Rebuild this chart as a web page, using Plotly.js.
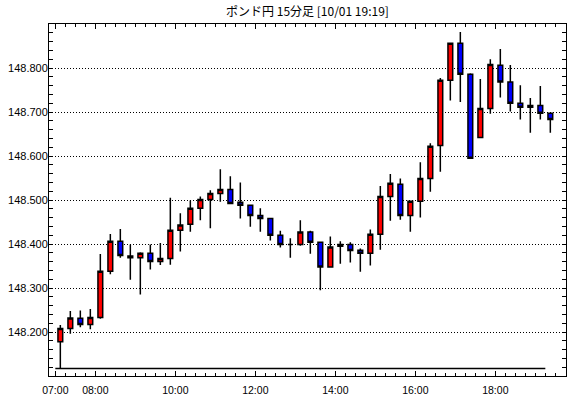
<!DOCTYPE html>
<html><head><meta charset="utf-8">
<script src="https://cdn.plot.ly/plotly-3.0.1.min.js"></script>
<style>html,body{margin:0;padding:0;background:#fff;}#chart{width:570px;height:398px;}</style>
</head><body><div id="chart"></div>
<script>
const dateStr = '2024-10-01';
const times = ['07:00','07:15','07:30','07:45','08:00','08:15','08:30','08:45','09:00','09:15',
  '09:30','09:45','10:00','10:15','10:30','10:45','11:00','11:15','11:30','11:45',
  '12:00','12:15','12:30','12:45','13:00','13:15','13:30','13:45','14:00','14:15',
  '14:30','14:45','15:00','15:15','15:30','15:45','16:00','16:15','16:30','16:45',
  '17:00','17:15','17:30','17:45','18:00','18:15','18:30','18:45','19:00','19:15'];
const openVals = [148.178,148.208,148.231,148.217,148.233,148.338,148.406,148.373,148.369,148.379,
  148.360,148.367,148.431,148.445,148.481,148.501,148.515,148.524,148.495,148.488,
  148.465,148.458,148.420,148.399,148.399,148.427,148.404,148.348,148.395,148.399,
  148.386,148.379,148.422,148.508,148.536,148.465,148.497,148.549,148.624,148.772,
  148.856,148.786,148.642,148.708,148.806,148.768,148.720,148.711,148.715,148.697];
const highVals = [148.216,148.248,148.249,148.252,148.377,148.423,148.434,148.399,148.381,148.399,
  148.402,148.505,148.470,148.499,148.508,148.522,148.570,148.554,148.540,148.490,
  148.481,148.458,148.430,148.413,148.454,148.430,148.404,148.417,148.406,148.404,
  148.390,148.433,148.532,148.559,148.549,148.497,148.586,148.629,148.777,148.858,
  148.882,148.788,148.775,148.820,148.843,148.807,148.761,148.732,148.759,148.697];
const lowVals = [148.117,148.196,148.211,148.206,148.230,148.331,148.369,148.319,148.285,148.342,
  148.352,148.353,148.383,148.428,148.454,148.436,148.496,148.492,148.458,148.439,
  148.428,148.408,148.392,148.369,148.396,148.378,148.295,148.346,148.355,148.358,
  148.337,148.351,148.387,148.453,148.455,148.428,148.460,148.519,148.564,148.726,
  148.723,148.595,148.642,148.696,148.733,148.701,148.683,148.653,148.683,148.653];
const closeVals = [148.208,148.232,148.217,148.233,148.338,148.406,148.374,148.369,148.379,148.360,
  148.367,148.431,148.443,148.481,148.501,148.515,148.524,148.492,148.488,148.465,
  148.458,148.420,148.399,148.399,148.427,148.404,148.348,148.393,148.399,148.385,
  148.379,148.422,148.508,148.538,148.465,148.497,148.549,148.622,148.772,148.856,
  148.786,148.595,148.708,148.808,148.768,148.720,148.711,148.715,148.697,148.683];
const xTickTimes = ['07:00','08:00','10:00','12:00','14:00','16:00','18:00'];
const yTickVals = [148.2,148.3,148.4,148.5,148.6,148.7,148.8];
const titleText = 'ポンド円 15分足 [10/01 19:19]';

const xs = times.map(t => dateStr + ' ' + t);
const dayLow = Math.min(...lowVals);

const traces = [
  {
    type: 'scatter', mode: 'lines',
    x: [xs[0], xs[xs.length - 1]], y: [dayLow, dayLow],
    line: {color: '#000', width: 1.5}, hoverinfo: 'skip', showlegend: false
  },
  {
    type: 'candlestick',
    x: xs, open: openVals, high: highVals, low: lowVals, close: closeVals,
    xperiod: 900000, xperiodalignment: 'middle',
    increasing: {fillcolor: '#ff0000', line: {color: '#000', width: 1.5}},
    decreasing: {fillcolor: '#0000ff', line: {color: '#000', width: 1.5}},
    whiskerwidth: 0, showlegend: false
  }
];

const axisFont = {family: 'Liberation Sans, Arial, sans-serif', color: '#000'};
const layout = {
  width: 570, height: 398,
  margin: {l: 49, r: 4, t: 24, b: 22},
  paper_bgcolor: '#fff', plot_bgcolor: '#fff',
  showlegend: false,
  boxgap: 0.32,
  title: {
    text: titleText, x: 0.5, xref: 'paper', xanchor: 'center',
    y: 1 - 12 / 398, yref: 'container', yanchor: 'middle',
    font: {family: 'Noto Sans CJK JP, sans-serif', size: 12, color: '#000'}
  },
  xaxis: {
    type: 'date',
    range: [dateStr + ' 06:50:30', dateStr + ' 19:46:00'],
    tickmode: 'array', tickvals: xTickTimes.map(t => dateStr + ' ' + t), ticktext: xTickTimes,
    ticks: 'inside', ticklen: 5, tickwidth: 1, tickcolor: '#000',
    showline: true, linecolor: '#000', linewidth: 1, mirror: 'allticks',
    showgrid: false, zeroline: false,
    rangeslider: {visible: false},
    ticklabelstandoff: 4,
    tickfont: Object.assign({size: 10.5}, axisFont),
    minor: {tick0: dateStr + ' 07:00', dtick: 900000, ticks: 'inside', ticklen: 3, tickcolor: '#000', showgrid: false},
    fixedrange: true
  },
  yaxis: {
    range: [148.1, 148.9],
    tickmode: 'array', tickvals: yTickVals, tickformat: '.3f',
    ticks: 'inside', ticklen: 4, tickwidth: 1, tickcolor: '#000',
    showline: true, linecolor: '#000', linewidth: 1, mirror: 'allticks',
    showgrid: true, gridcolor: '#000', griddash: '1px,2px', gridwidth: 1,
    zeroline: false,
    ticklabelstandoff: -2,
    tickfont: Object.assign({size: 11}, axisFont),
    minor: {tick0: 148.1, dtick: 0.02, ticks: 'inside', ticklen: 4, tickcolor: '#000', showgrid: false},
    fixedrange: true
  }
};

Plotly.newPlot('chart', traces, layout, {displayModeBar: false, staticPlot: true});
</script>
</body></html>
